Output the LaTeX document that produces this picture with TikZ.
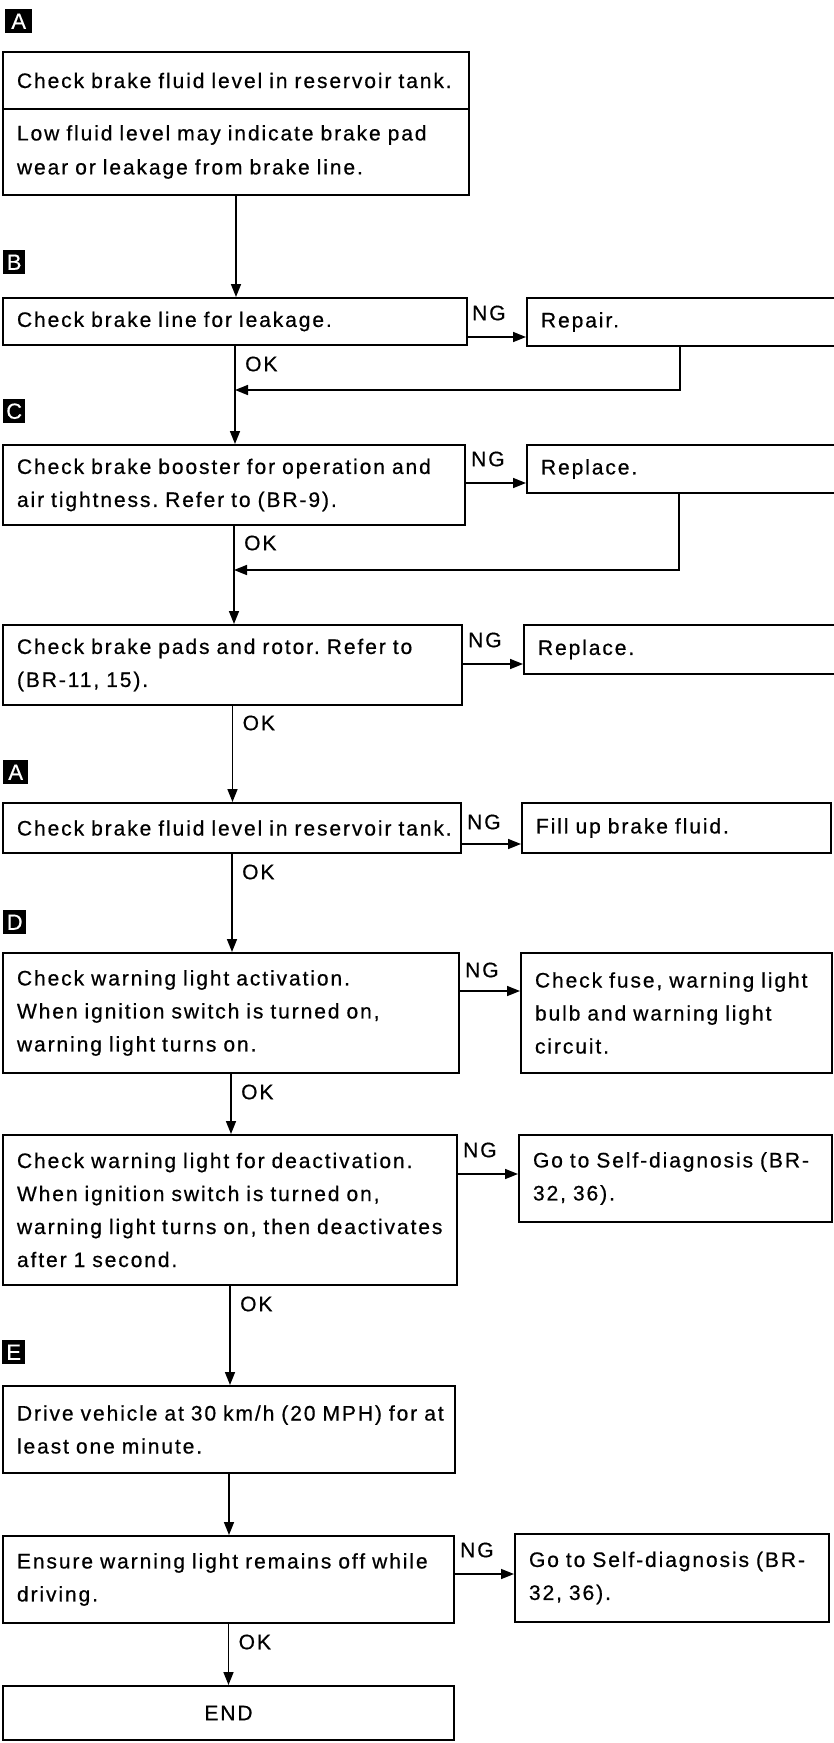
\documentclass[tikz,border=0pt]{standalone}
\usepackage{fontspec}
\setmainfont[LetterSpace=9.1,FakeBold=0.6]{Liberation Sans}
\newfontfamily\tagfont[FakeBold=0.3]{Liberation Sans}
\usetikzlibrary{arrows.meta}
\frenchspacing
\begin{document}
\begin{tikzpicture}[x=1pt,y=-1pt,
  box/.style={draw, line width=2pt, inner xsep=14pt, inner ysep=0pt, align=left, anchor=north west, font=\fontsize{21}{33}\selectfont},
  tag/.style={fill=black, text=white, inner sep=0pt, anchor=north west, minimum height=24pt, font=\tagfont\fontsize{22}{22}\selectfont},
  conn/.style={line width=1.6pt, -{Triangle[length=13pt,width=10pt]}},
  lbl/.style={inner sep=0pt, anchor=west, font=\fontsize{21}{21}\selectfont}]
\useasboundingbox (0,0) rectangle (833,1743);

% tags
\node[tag, minimum width=27pt] (tA1) at (5,9) {A};
\node[tag, minimum width=22pt] (tB) at (3,250) {B};
\node[tag, minimum width=22pt] (tC) at (3,399) {C};
\node[tag, minimum width=25pt] (tA2) at (3,760) {A};
\node[tag, minimum width=23pt] (tD) at (3,910) {D};
\node[tag, minimum width=23pt] (tE) at (2,1340) {E};

% main column
\node[box, text width=438pt, minimum height=57pt] (a1) at (2,51) {\mbox{Check brake fluid level in reservoir tank.}};
\node[box, text width=438pt, minimum height=86pt, font=\fontsize{21}{34}\selectfont] (a1b) at (2,108) {\mbox{Low fluid level may indicate brake pad}\\\mbox{wear or leakage from brake line.}};
\node[box, text width=436pt, minimum height=47pt] (b) at (2,297) {\mbox{Check brake line for leakage.}};
\node[box, text width=434pt, minimum height=80pt] (c) at (2,444) {\mbox{Check brake booster for operation and}\\\mbox{air tightness. Refer to (BR-9).}};
\node[box, text width=431pt, minimum height=80pt] (pads) at (2,624) {\mbox{Check brake pads and rotor. Refer to}\\\mbox{(BR-11, 15).}};
\node[box, text width=430pt, minimum height=50pt] (a2) at (2,802) {\mbox{Check brake fluid level in reservoir tank.}};
\node[box, text width=428pt, minimum height=120pt] (d) at (2,952) {\mbox{Check warning light activation.}\\\mbox{When ignition switch is turned on,}\\\mbox{warning light turns on.}};
\node[box, text width=426pt, minimum height=150pt] (deact) at (2,1134) {\mbox{Check warning light for deactivation.}\\\mbox{When ignition switch is turned on,}\\\mbox{warning light turns on, then deactivates}\\\mbox{after 1 second.}};
\node[box, text width=424pt, minimum height=87pt] (drive) at (2,1385) {\mbox{Drive vehicle at 30 km/h (20 MPH) for at}\\\mbox{least one minute.}};
\node[box, text width=423pt, minimum height=87pt] (ensure) at (2,1535) {\mbox{Ensure warning light remains off while}\\\mbox{driving.}};
\node[box, text width=423pt, minimum height=54pt, align=center] (endn) at (2,1685) {END};

% right column
\node[box, text width=291pt, minimum height=48pt] (repair) at (526,297) {Repair.};
\node[box, text width=291pt, minimum height=48pt] (rep1) at (526,444) {Replace.};
\node[box, text width=294pt, minimum height=49pt] (rep2) at (523,624) {Replace.};
\node[box, text width=281pt, minimum height=50pt] (fill) at (521,802) {Fill up brake fluid.};
\node[box, text width=283pt, minimum height=120pt] (fuse) at (520,952) {\mbox{Check fuse, warning light}\\\mbox{bulb and warning light}\\\mbox{circuit.}};
\node[box, text width=285pt, minimum height=87pt] (go1) at (518,1134) {\mbox{Go to Self-diagnosis (BR-}\\\mbox{32, 36).}};
\node[box, text width=286pt, minimum height=88pt] (go2) at (514,1533) {\mbox{Go to Self-diagnosis (BR-}\\\mbox{32, 36).}};

% vertical flow
\draw[conn] (a1b.south) -- (a1b.south |- b.north);
\draw[conn] (b.south) -- (b.south |- c.north);
\draw[conn] (c.south) -- (c.south |- pads.north);
\draw[conn] (pads.south) -- (pads.south |- a2.north);
\draw[conn] (a2.south) -- (a2.south |- d.north);
\draw[conn] (d.south) -- (d.south |- deact.north);
\draw[conn] (deact.south) -- (deact.south |- drive.north);
\draw[conn] (drive.south) -- (drive.south |- ensure.north);
\draw[conn] (ensure.south) -- (ensure.south |- endn.north);

% return lines
\coordinate (rB) at (680,390);
\coordinate (rC) at (679,570);
\draw[conn] (repair.south -| rB) |- (b.south |- rB);
\draw[conn] (rep1.south -| rC) |- (c.south |- rC);

% NG arrows
\coordinate (ngB) at (0,337);
\coordinate (ngC) at (0,483);
\coordinate (ngP) at (0,664);
\coordinate (ngA) at (0,844);
\coordinate (ngD) at (0,991);
\coordinate (ngX) at (0,1174);
\coordinate (ngE) at (0,1574);
\draw[conn] (b.east |- ngB) -- (repair.west |- ngB);
\draw[conn] (c.east |- ngC) -- (rep1.west |- ngC);
\draw[conn] (pads.east |- ngP) -- (rep2.west |- ngP);
\draw[conn] (a2.east |- ngA) -- (fill.west |- ngA);
\draw[conn] (d.east |- ngD) -- (fuse.west |- ngD);
\draw[conn] (deact.east |- ngX) -- (go1.west |- ngX);
\draw[conn] (ensure.east |- ngE) -- (go2.west |- ngE);

% NG labels
\node[lbl] (ng1) at ([xshift=4pt,yshift=24pt] b.east |- ngB) {NG};
\node[lbl] (ng2) at ([xshift=5pt,yshift=24pt] c.east |- ngC) {NG};
\node[lbl] (ng3) at ([xshift=5pt,yshift=24pt] pads.east |- ngP) {NG};
\node[lbl] (ng4) at ([xshift=5pt,yshift=22pt] a2.east |- ngA) {NG};
\node[lbl] (ng5) at ([xshift=5pt,yshift=21pt] d.east |- ngD) {NG};
\node[lbl] (ng6) at ([xshift=5pt,yshift=24pt] deact.east |- ngX) {NG};
\node[lbl] (ng7) at ([xshift=5pt,yshift=24pt] ensure.east |- ngE) {NG};

% OK labels
\node[lbl] (ok1) at ([xshift=10pt,yshift=-18pt] b.south) {OK};
\node[lbl] (ok2) at ([xshift=10pt,yshift=-17pt] c.south) {OK};
\node[lbl] (ok3) at ([xshift=10pt,yshift=-17pt] pads.south) {OK};
\node[lbl] (ok4) at ([xshift=10pt,yshift=-18pt] a2.south) {OK};
\node[lbl] (ok5) at ([xshift=10pt,yshift=-18pt] d.south) {OK};
\node[lbl] (ok6) at ([xshift=10pt,yshift=-18pt] deact.south) {OK};
\node[lbl] (ok7) at ([xshift=10pt,yshift=-18pt] ensure.south) {OK};
\end{tikzpicture}
\end{document}
